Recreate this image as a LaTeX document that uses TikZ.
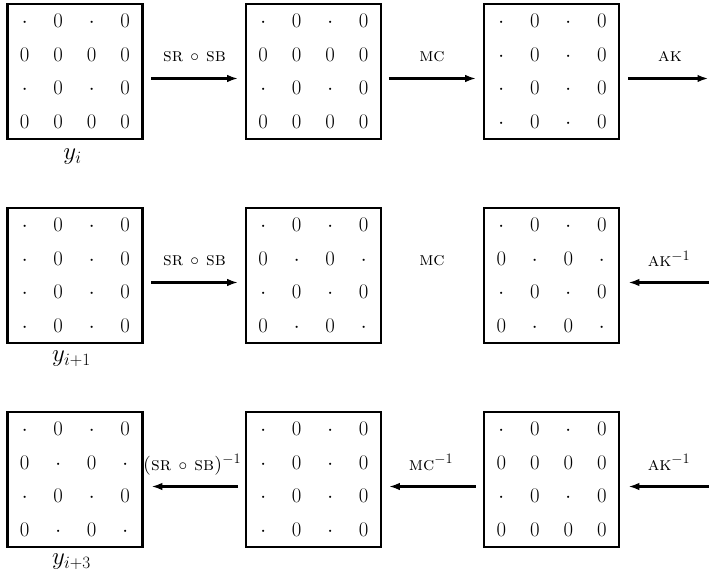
\documentclass[tikz,border=0pt]{standalone}
\usetikzlibrary{matrix,arrows.meta}
\tikzset{
  grid/.style={matrix of math nodes, draw, line width=2.6pt, inner sep=0.5pt,
    column sep=0pt, row sep=0pt,
    nodes={minimum size=33.5pt, inner sep=0pt, text height=13pt, text depth=0pt,
      anchor=center, font=\fontsize{20.74}{24}\selectfont}},
  arr/.style={line width=2.5pt, -{Latex[length=11pt,width=7.5pt]}},
  lbl/.style={anchor=base, inner sep=0pt, font=\fontsize{19}{22}\selectfont\scshape},
  ylbl/.style={anchor=base, inner sep=0pt, font=\fontsize{26}{30}\selectfont},
}
\begin{document}
\begin{tikzpicture}[x=1pt,y=-1pt]
\useasboundingbox (0,0) rectangle (709,577);
% row 1
\matrix[grid] (m11) at (75,71.5) {\cdot & 0 & \cdot & 0\\ 0 & 0 & 0 & 0\\ \cdot & 0 & \cdot & 0\\ 0 & 0 & 0 & 0\\};
\matrix[grid] (m12) at (313.5,71.5) {\cdot & 0 & \cdot & 0\\ 0 & 0 & 0 & 0\\ \cdot & 0 & \cdot & 0\\ 0 & 0 & 0 & 0\\};
\matrix[grid] (m13) at (551.5,71.5) {\cdot & 0 & \cdot & 0\\ \cdot & 0 & \cdot & 0\\ \cdot & 0 & \cdot & 0\\ \cdot & 0 & \cdot & 0\\};
% row 2
\matrix[grid] (m21) at (75,275.5) {\cdot & 0 & \cdot & 0\\ \cdot & 0 & \cdot & 0\\ \cdot & 0 & \cdot & 0\\ \cdot & 0 & \cdot & 0\\};
\matrix[grid] (m22) at (313.5,275.5) {\cdot & 0 & \cdot & 0\\ 0 & \cdot & 0 & \cdot\\ \cdot & 0 & \cdot & 0\\ 0 & \cdot & 0 & \cdot\\};
\matrix[grid] (m23) at (551.5,275.5) {\cdot & 0 & \cdot & 0\\ 0 & \cdot & 0 & \cdot\\ \cdot & 0 & \cdot & 0\\ 0 & \cdot & 0 & \cdot\\};
% row 3
\matrix[grid] (m31) at (75,479.5) {\cdot & 0 & \cdot & 0\\ 0 & \cdot & 0 & \cdot\\ \cdot & 0 & \cdot & 0\\ 0 & \cdot & 0 & \cdot\\};
\matrix[grid] (m32) at (313.5,479.5) {\cdot & 0 & \cdot & 0\\ \cdot & 0 & \cdot & 0\\ \cdot & 0 & \cdot & 0\\ \cdot & 0 & \cdot & 0\\};
\matrix[grid] (m33) at (551.5,479.5) {\cdot & 0 & \cdot & 0\\ 0 & 0 & 0 & 0\\ \cdot & 0 & \cdot & 0\\ 0 & 0 & 0 & 0\\};
% free ends at right edge
\coordinate (e1) at (708.5,78.5);
\coordinate (e2) at (709,282.5);
\coordinate (e3) at (709,486.5);
% arrows
\draw[arr, shorten <=7.5pt, shorten >=6.5pt] ([yshift=-7pt]m11.east) -- ([yshift=-7pt]m12.west);
\draw[arr, shorten <=6.5pt, shorten >=6.5pt] ([yshift=-7pt]m12.east) -- ([yshift=-7pt]m13.west);
\draw[arr, shorten <=8pt] ([yshift=-7pt]m13.east) -- (e1);
\draw[arr, shorten <=7.5pt, shorten >=6.5pt] ([yshift=-7pt]m21.east) -- ([yshift=-7pt]m22.west);
\draw[arr, shorten >=8pt] (e2) -- ([yshift=-7pt]m23.east);
\draw[arr, shorten <=6.5pt, shorten >=7.5pt] ([yshift=-7pt]m32.west) -- ([yshift=-7pt]m31.east);
\draw[arr, shorten <=7pt, shorten >=6.5pt] ([yshift=-7pt]m33.west) -- ([yshift=-7pt]m32.east);
\draw[arr, shorten >=8pt] (e3) -- ([yshift=-7pt]m33.east);
% arrow labels
\node[lbl] (l11) at (194.5,61.5) {sr $\circ$ sb};
\node[lbl] (l12) at (432,61.5) {mc};
\node[lbl] (l13) at (670,61.5) {ak};
\node[lbl] (l21) at (194.5,265.5) {sr $\circ$ sb};
\node[lbl] (l22) at (432,265.5) {mc};
\node[lbl] (l23) at (669,266.5) {ak$^{-1}$};
\node[lbl] (l31) at (192,470) {(sr $\circ$ sb)$^{-1}$};
\node[lbl] (l32) at (431,470) {mc$^{-1}$};
\node[lbl] (l33) at (669,470) {ak$^{-1}$};
% state labels
\node[ylbl] (y1) at (72.5,159.5) {$y_i$};
\node[ylbl] (y2) at (71.5,361.5) {$y_{i+1}$};
\node[ylbl] (y3) at (71.5,564.5) {$y_{i+3}$};
\end{tikzpicture}
\end{document}
